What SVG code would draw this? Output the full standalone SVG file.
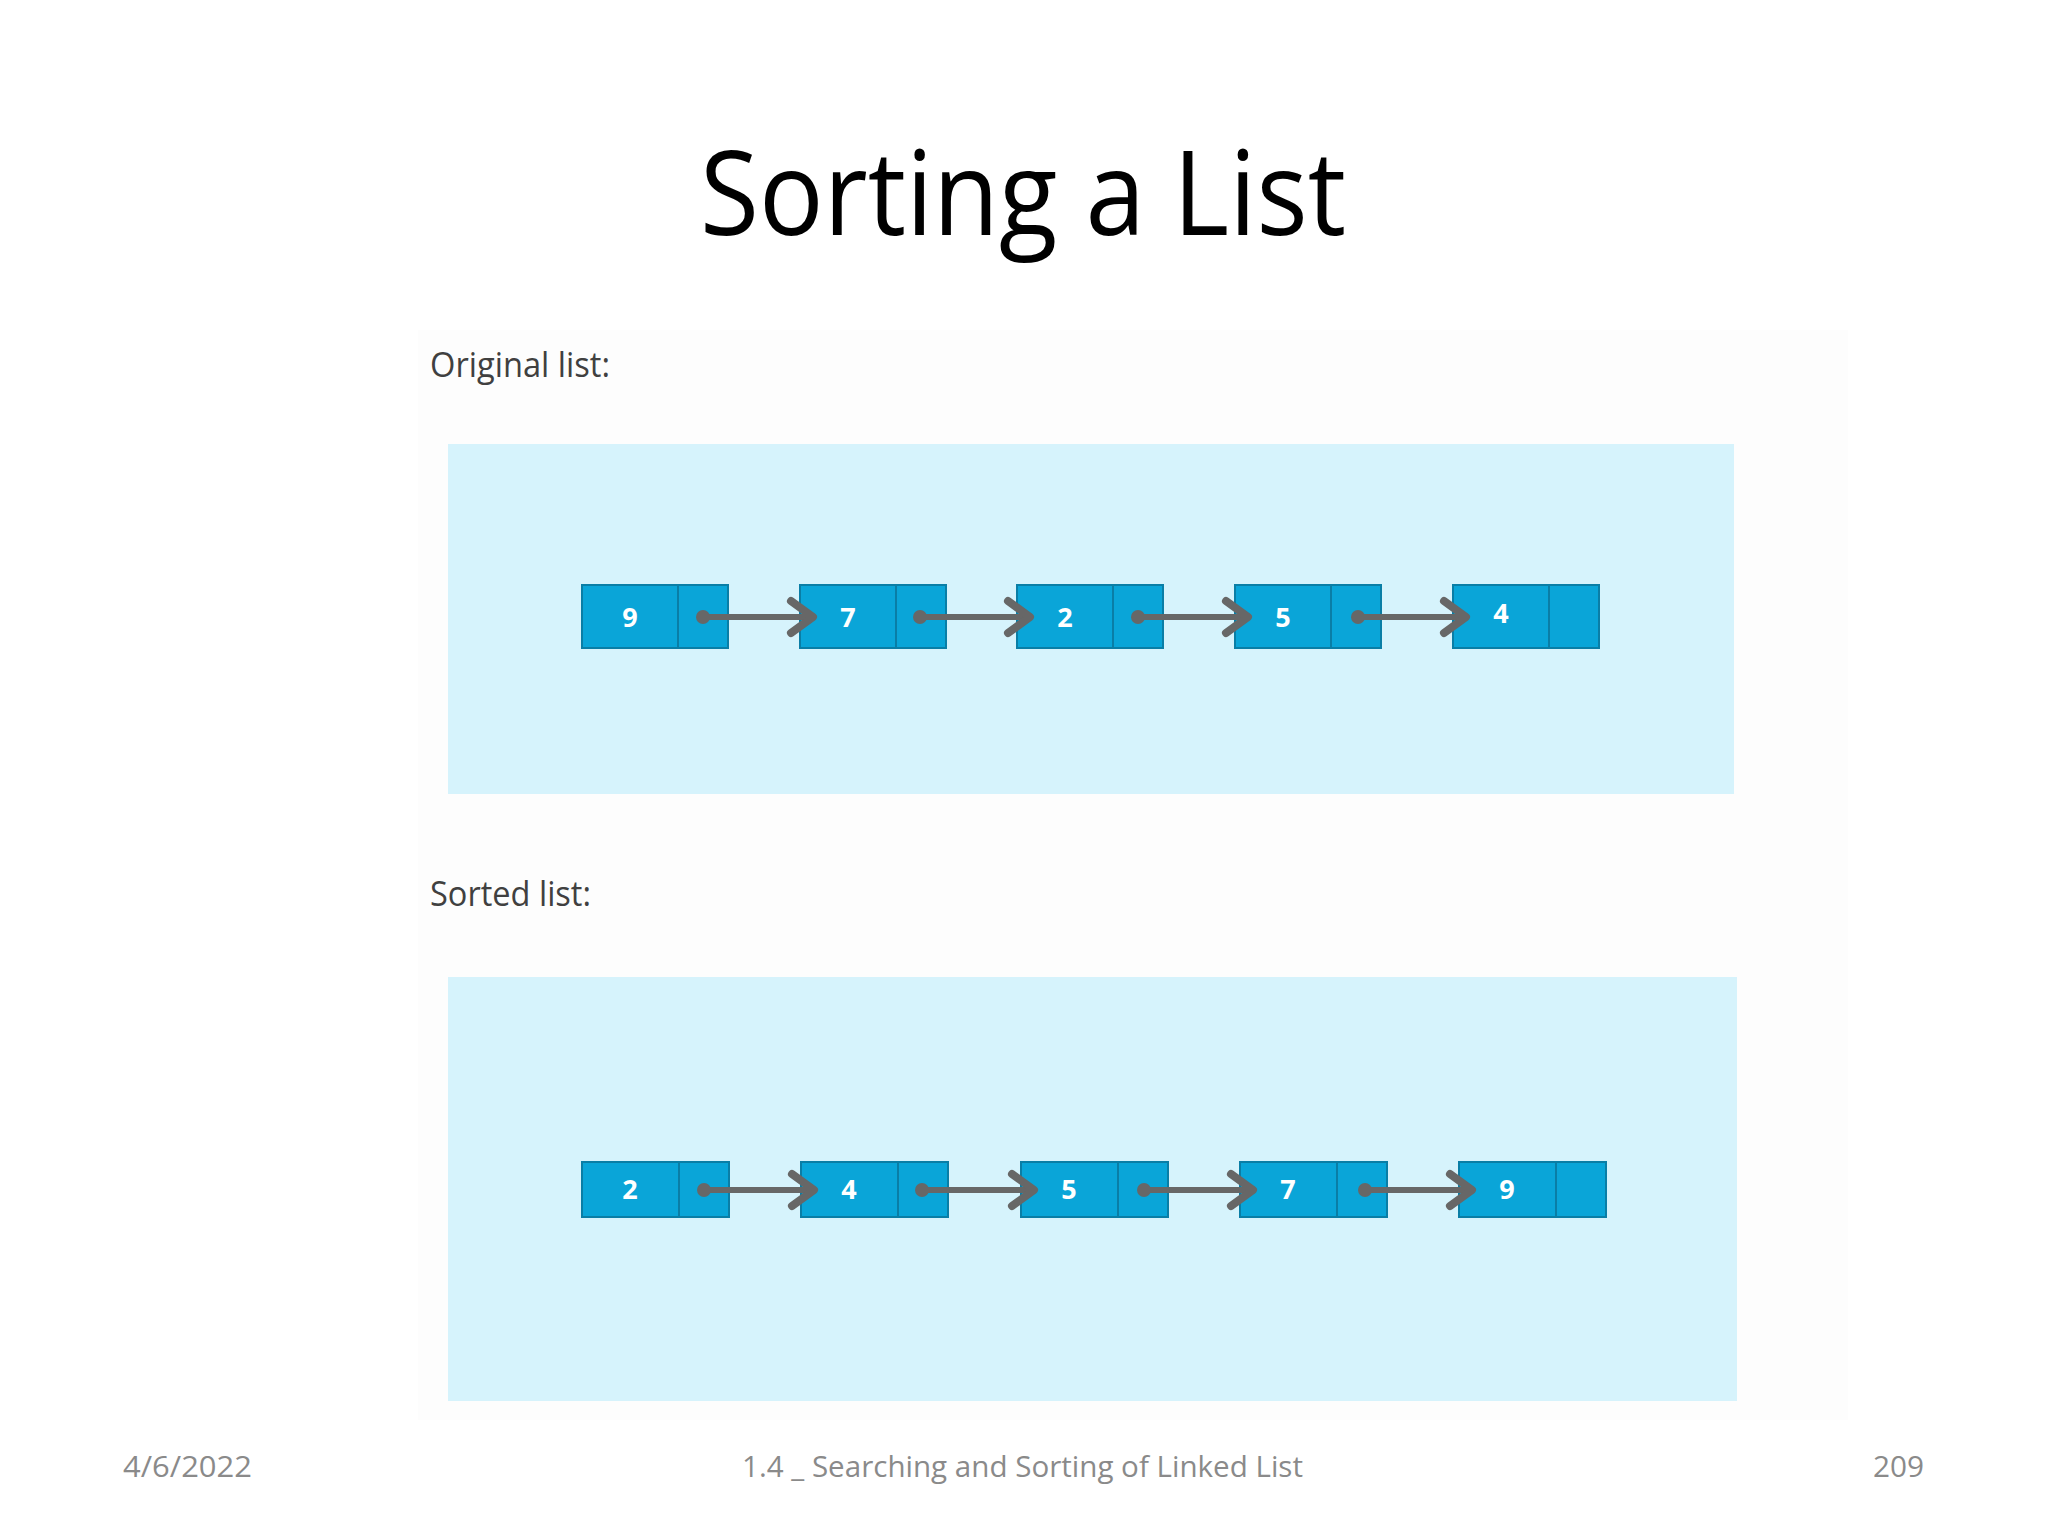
<svg xmlns="http://www.w3.org/2000/svg" width="2048" height="1536" viewBox="0 0 2048 1536">
<style>
.cell{fill:#0aa5d8;stroke:#0a7ea6;stroke-width:2}
.div{stroke:#0a7ea6;stroke-width:2}
.val{font-family:"Open Sans","DejaVu Sans",sans-serif;font-weight:bold;font-size:27px;fill:#ffffff;text-anchor:middle}
.lbl{font-family:"Open Sans","Noto Sans",sans-serif;font-size:34px;fill:#404040}
.foot{font-family:"Open Sans","Liberation Sans",sans-serif;font-size:30px;fill:#8a8a8a}
.link{stroke:#676767;stroke-width:6;fill:none}
.head{stroke:#676767;stroke-width:8;fill:none;stroke-linecap:round;stroke-linejoin:round}
.dot{fill:#676767}
.panel{fill:#d6f3fc}
</style>
<rect width="2048" height="1536" fill="#ffffff"/>
<rect x="418" y="330" width="1430" height="1090" fill="#fdfdfd"/>
<text x="1023" y="235" font-family="Open Sans, Liberation Sans, sans-serif" font-size="118" fill="#000000" text-anchor="middle" textLength="646" lengthAdjust="spacingAndGlyphs">Sorting a List</text>
<text class="lbl" x="430" y="377" textLength="180" lengthAdjust="spacingAndGlyphs">Original list:</text>
<text class="lbl" x="430" y="906" textLength="161" lengthAdjust="spacingAndGlyphs">Sorted list:</text>
<rect class="panel" x="448" y="444" width="1286" height="350"/>
<rect class="panel" x="448" y="977" width="1289" height="424"/>

<g id="orig-9"><rect class="cell" x="582" y="585" width="146" height="63"/><line class="div" x1="678" y1="585" x2="678" y2="648"/><text class="val" x="630" y="627">9</text></g>
<g id="orig-7"><rect class="cell" x="800" y="585" width="146" height="63"/><line class="div" x1="896" y1="585" x2="896" y2="648"/><text class="val" x="848" y="627">7</text></g>
<g id="orig-2"><rect class="cell" x="1017" y="585" width="146" height="63"/><line class="div" x1="1113" y1="585" x2="1113" y2="648"/><text class="val" x="1065" y="627">2</text></g>
<g id="orig-5"><rect class="cell" x="1235" y="585" width="146" height="63"/><line class="div" x1="1331" y1="585" x2="1331" y2="648"/><text class="val" x="1283" y="627">5</text></g>
<g id="orig-4"><rect class="cell" x="1453" y="585" width="146" height="63"/><line class="div" x1="1549" y1="585" x2="1549" y2="648"/><text class="val" x="1501" y="623">4</text></g>

<g id="sorted-2"><rect class="cell" x="582" y="1162" width="147" height="55"/><line class="div" x1="679" y1="1162" x2="679" y2="1217"/><text class="val" x="630" y="1199">2</text></g>
<g id="sorted-4"><rect class="cell" x="801" y="1162" width="147" height="55"/><line class="div" x1="898" y1="1162" x2="898" y2="1217"/><text class="val" x="849" y="1199">4</text></g>
<g id="sorted-5"><rect class="cell" x="1021" y="1162" width="147" height="55"/><line class="div" x1="1118" y1="1162" x2="1118" y2="1217"/><text class="val" x="1069" y="1199">5</text></g>
<g id="sorted-7"><rect class="cell" x="1240" y="1162" width="147" height="55"/><line class="div" x1="1337" y1="1162" x2="1337" y2="1217"/><text class="val" x="1288" y="1199">7</text></g>
<g id="sorted-9"><rect class="cell" x="1459" y="1162" width="147" height="55"/><line class="div" x1="1556" y1="1162" x2="1556" y2="1217"/><text class="val" x="1507" y="1199">9</text></g>

<g id="connectors">
<circle class="dot" cx="703" cy="617" r="7"/><line class="link" x1="703" y1="617" x2="812" y2="617"/><polyline class="head" points="791,601 813,617 791,633"/>
<circle class="dot" cx="920" cy="617" r="7"/><line class="link" x1="920" y1="617" x2="1029" y2="617"/><polyline class="head" points="1008,601 1030,617 1008,633"/>
<circle class="dot" cx="1138" cy="617" r="7"/><line class="link" x1="1138" y1="617" x2="1247" y2="617"/><polyline class="head" points="1226,601 1248,617 1226,633"/>
<circle class="dot" cx="1358" cy="617" r="7"/><line class="link" x1="1358" y1="617" x2="1465" y2="617"/><polyline class="head" points="1444,601 1466,617 1444,633"/>

<circle class="dot" cx="704" cy="1190" r="7"/><line class="link" x1="704" y1="1190" x2="813" y2="1190"/><polyline class="head" points="792,1174 814,1190 792,1206"/>
<circle class="dot" cx="922" cy="1190" r="7"/><line class="link" x1="922" y1="1190" x2="1033" y2="1190"/><polyline class="head" points="1012,1174 1034,1190 1012,1206"/>
<circle class="dot" cx="1144" cy="1190" r="7"/><line class="link" x1="1144" y1="1190" x2="1252" y2="1190"/><polyline class="head" points="1231,1174 1253,1190 1231,1206"/>
<circle class="dot" cx="1365" cy="1190" r="7"/><line class="link" x1="1365" y1="1190" x2="1471" y2="1190"/><polyline class="head" points="1450,1174 1472,1190 1450,1206"/>
</g>

<text class="foot" x="123" y="1477" textLength="129" lengthAdjust="spacingAndGlyphs">4/6/2022</text>
<text class="foot" x="742" y="1477" textLength="561" lengthAdjust="spacingAndGlyphs">1.4 _ Searching and Sorting of Linked List</text>
<text class="foot" x="1873" y="1477" textLength="51" lengthAdjust="spacingAndGlyphs">209</text>
</svg>
